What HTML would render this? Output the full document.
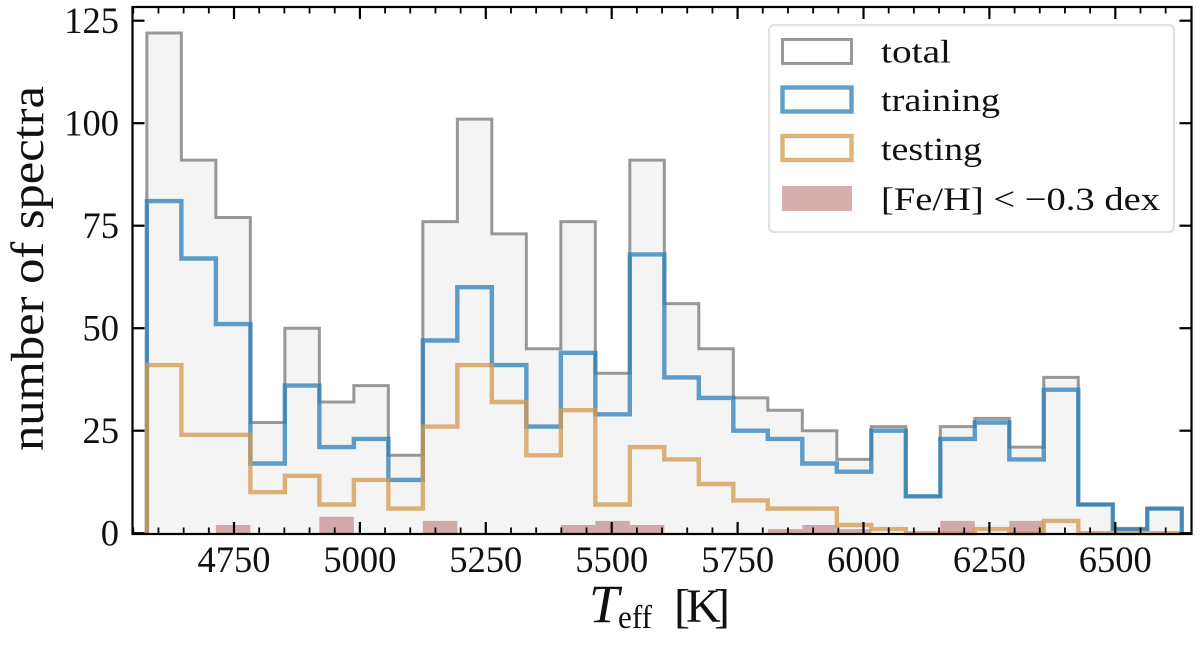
<!DOCTYPE html>
<html lang="en">
<head>
<meta charset="utf-8">
<title>Spectra histogram by effective temperature</title>
<style>
html,body{margin:0;padding:0;background:#fff;}
svg{display:block;font-family:"Liberation Serif",serif;}
text{fill:#111;}
</style>
</head>
<body>
<svg id="chart" xmlns="http://www.w3.org/2000/svg" width="1200" height="647" viewBox="0 0 1200 647">
  <g id="plot"></g>
  <g id="axes"></g>
  <rect x="132.5" y="7" width="1059" height="527" fill="none" stroke="#000" stroke-width="2.2"/>
  <text transform="translate(43,268.5) rotate(-90)" text-anchor="middle" font-size="47" textLength="365" lengthAdjust="spacingAndGlyphs">number of spectra</text>
  <g>
    <text x="589" y="622" font-size="54" font-style="italic">T</text>
    <text x="618" y="628" font-size="33" textLength="34" lengthAdjust="spacingAndGlyphs">eff</text>
    <text x="674 686 714" y="622" font-size="48">[K]</text>
  </g>
  <g>
    <rect x="769" y="25" width="405" height="207" rx="5" fill="#fff" fill-opacity="0.85" stroke="#e2e2e2" stroke-width="2.2"/>
    <rect x="782.5" y="39.5" width="69" height="24" fill="none" stroke="#808080" stroke-opacity="0.8" stroke-width="3"/>
    <text x="881" y="62.5" font-size="33" textLength="70" lengthAdjust="spacingAndGlyphs">total</text>
    <rect x="782.5" y="87.5" width="69" height="24" fill="none" stroke="#2a7fb8" stroke-opacity="0.75" stroke-width="4.4"/>
    <text x="881" y="111" font-size="33" textLength="119" lengthAdjust="spacingAndGlyphs">training</text>
    <rect x="782.5" y="136" width="69" height="24" fill="none" stroke="#d39a4e" stroke-opacity="0.75" stroke-width="4.4"/>
    <text x="881" y="160" font-size="33" textLength="101" lengthAdjust="spacingAndGlyphs">testing</text>
    <rect x="782" y="186" width="70" height="25" fill="#b56b6b" fill-opacity="0.55"/>
    <text x="881" y="210" font-size="33" textLength="279" lengthAdjust="spacingAndGlyphs">[Fe/H] &lt; −0.3 dex</text>
  </g>
</svg>
<script>
const binStart = 4577;
const binWidth = 68.5;
const totalCounts = [122,91,77,27,50,32,36,19,76,101,73,45,76,39,91,56,45,33,30,25,18,26,9,26,28,21,38,7,1,6];
const trainingCounts = [81,67,51,17,36,21,23,13,47,60,41,26,44,29,68,38,33,25,23,17,15,25,9,23,27,18,35,7,1,6];
const testingCounts = [41,24,24,10,14,7,13,6,26,41,32,19,30,7,21,18,12,8,6,6,2,1,0,0,1,0,3,0,0,0];
const metalPoorCounts = [0,0,2,0,0,4,0,0,3,0,0,0,2,3,2,0,0,0,1,2,1,0,0,3,0,3,0,0,0,0];
const xMajorTicks = [4750,5000,5250,5500,5750,6000,6250,6500];
const xMinorTicks = [4550,4600,4650,4700,4800,4850,4900,4950,5050,5100,5150,5200,5300,5350,5400,5450,5550,5600,5650,5700,5800,5850,5900,5950,6050,6100,6150,6200,6300,6350,6400,6450,6550,6600];
const yMajorTicks = [0,25,50,75,100,125];

const NS = 'http://www.w3.org/2000/svg';
const plot = document.getElementById('plot');
const axes = document.getElementById('axes');
const X_LEFT = 132.5, X_RIGHT = 1191.5, Y_TOP = 7, Y_BOTTOM = 534;

function xScale(t) { return 234 + (t - 4750) * 0.5036; }
function yScale(v) { return 533.2 - v * 4.1; }
function edge(i) { return xScale(binStart + i * binWidth); }

function stepPath(values) {
  let d = 'M' + edge(0) + ' ' + yScale(0);
  values.forEach(function (v, i) {
    d += 'L' + edge(i) + ' ' + yScale(v) + 'L' + edge(i + 1) + ' ' + yScale(v);
  });
  return d + 'L' + edge(values.length) + ' ' + yScale(0);
}

function make(tag, parent, attrs) {
  const el = document.createElementNS(NS, tag);
  Object.keys(attrs).forEach(function (k) { el.setAttribute(k, attrs[k]); });
  parent.appendChild(el);
  return el;
}

const totalFill = make('path', plot, { d: stepPath(totalCounts) + 'Z', fill: '#808080', 'fill-opacity': 0.09 });



const totalLine = make('path', plot, { d: stepPath(totalCounts), fill: 'none', stroke: '#808080', 'stroke-opacity': 0.8, 'stroke-width': 3 });



metalPoorCounts.forEach(function (v, i) {
  if (v <= 0) return;
  const bar = make('rect', plot, { x: edge(i), y: yScale(v), width: edge(i + 1) - edge(i), height: yScale(0) - yScale(v), fill: '#b56b6b', 'fill-opacity': 0.55 });
  
  
});

const trainingLine = make('path', plot, { d: stepPath(trainingCounts), fill: 'none', stroke: '#2a7fb8', 'stroke-opacity': 0.75, 'stroke-width': 4.4 });



const testingLine = make('path', plot, { d: stepPath(testingCounts), fill: 'none', stroke: '#d39a4e', 'stroke-opacity': 0.75, 'stroke-width': 4.4 });



function vTick(t, len, width) {
  const x = xScale(t);
  const bottom = make('line', axes, { x1: x, x2: x, y1: Y_BOTTOM, y2: Y_BOTTOM - len, stroke: '#000', 'stroke-width': width });
  
  
  const top = make('line', axes, { x1: x, x2: x, y1: Y_TOP, y2: Y_TOP + len, stroke: '#000', 'stroke-width': width });
  
  
}

xMinorTicks.forEach(function (t) { vTick(t, 6.5, 1.8); });
xMajorTicks.forEach(function (t) {
  vTick(t, 12, 2.2);
  const label = make('text', axes, { x: xScale(t), y: 572, 'text-anchor': 'middle', 'font-size': 36.5 });
  
  
  label.textContent = String(t);
});

yMajorTicks.forEach(function (v) {
  const y = yScale(v);
  const left = make('line', axes, { x1: X_LEFT, x2: X_LEFT + 12, y1: y, y2: y, stroke: '#000', 'stroke-width': 2.2 });
  
  
  const right = make('line', axes, { x1: X_RIGHT, x2: X_RIGHT - 12, y1: y, y2: y, stroke: '#000', 'stroke-width': 2.2 });
  
  
  const label = make('text', axes, { x: 119, y: y + 12.5, 'text-anchor': 'end', 'font-size': 36.5 });
  
  
  label.textContent = String(v);
});
</script>
</body>
</html>
